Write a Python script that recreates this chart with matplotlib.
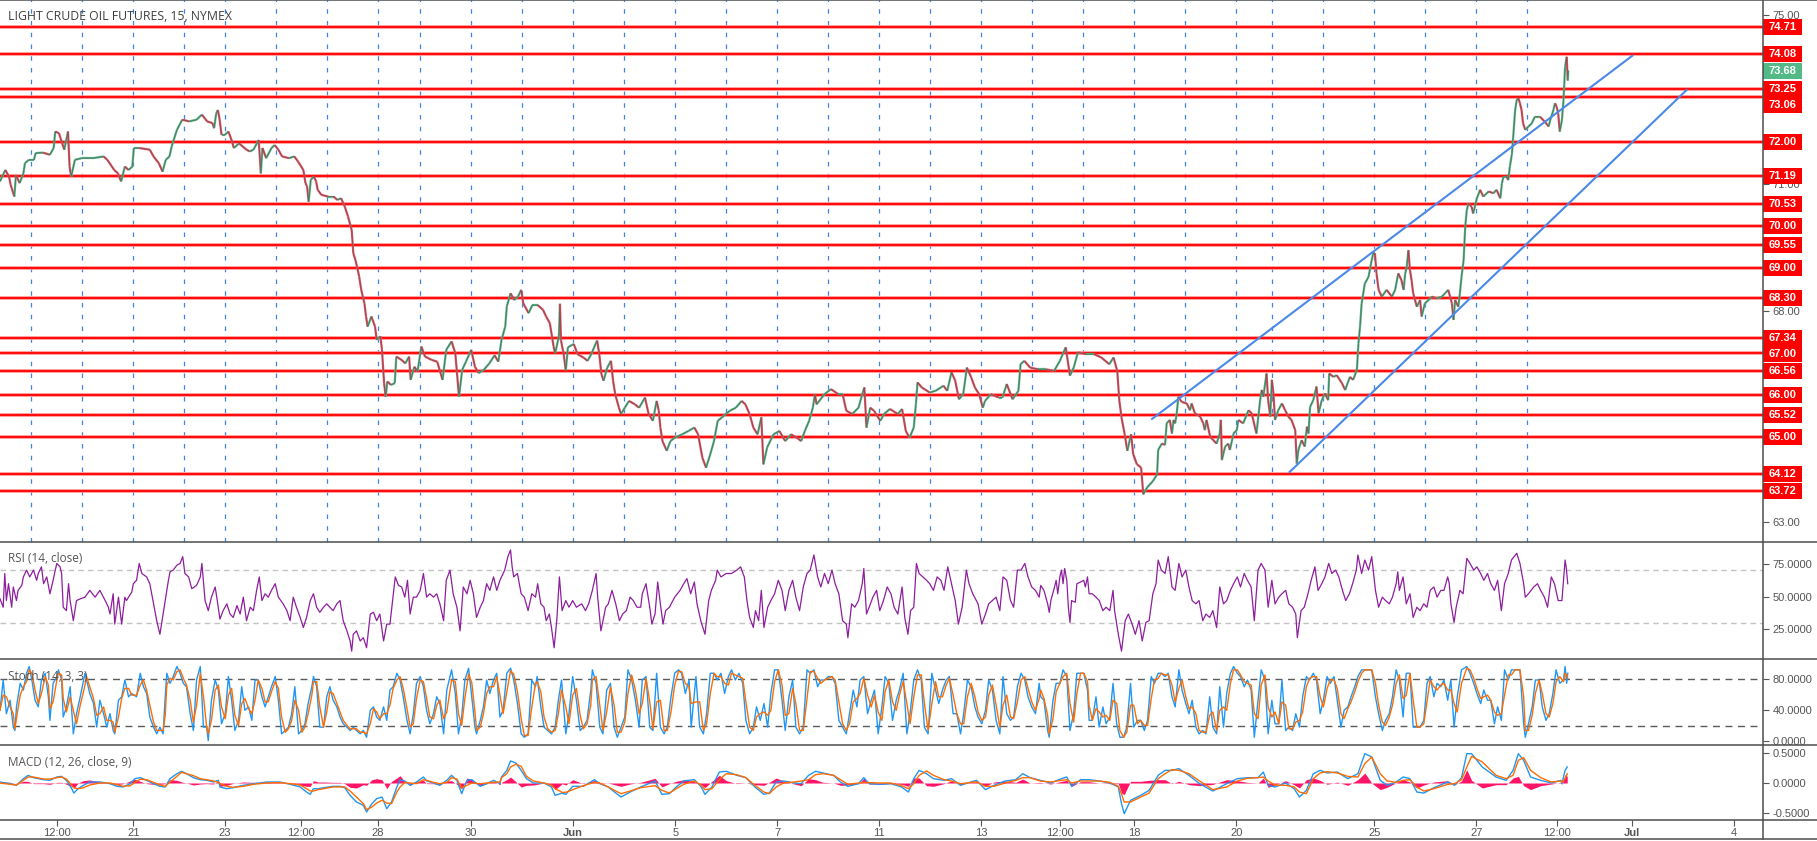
import numpy as np
import pandas as pd
import matplotlib
matplotlib.use("Agg")
import matplotlib.pyplot as plt
import matplotlib.transforms as mtransforms
from matplotlib.collections import LineCollection
from matplotlib.lines import Line2D
from matplotlib.patches import Rectangle

plt.rcParams["font.family"] = ["Liberation Sans", "DejaVu Sans"]

# ---- data (x in 15-min bars from the first day boundary) ----
price_bar = [
    -59, -49, -42, -39, -32, -29, -22, -15, -12, -5, 5, 8, 22, 35, 42, 45, 52, 55, 62, 69, 72, 75, 82, 95, 116,
    136, 143, 156, 163, 169, 176, 183, 190, 193, 203, 223, 230, 240, 247, 253, 260, 264, 274, 284, 297, 311, 321,
    331, 341, 344, 348, 351, 354, 358, 364, 371, 378, 381, 391, 405, 411, 418, 428, 432, 435, 442, 452, 458, 465,
    472, 485, 495, 502, 512, 516, 519, 522, 526, 532, 536, 539, 546, 559, 569, 576, 583, 590, 596, 603, 606, 610,
    613, 617, 621, 627, 630, 633, 640, 647, 650, 657, 660, 664, 667, 670, 677, 684, 687, 697, 704, 711, 714, 721,
    727, 734, 741, 754, 764, 774, 781, 791, 798, 805, 811, 818, 828, 835, 842, 852, 862, 872, 879, 885, 892, 895,
    902, 909, 916, 922, 926, 936, 943, 953, 963, 969, 976, 983, 986, 993, 995, 997,
    1002, 1006, 1010, 1021, 1028, 1039, 1047, 1054, 1062, 1065, 1069, 1073, 1077, 1084, 1091, 1095, 1099, 1106,
    1110, 1117, 1125, 1136, 1144, 1155, 1162, 1170, 1177, 1181, 1184, 1188, 1196, 1203, 1211, 1225, 1237, 1248,
    1255, 1263, 1270, 1278, 1285, 1292, 1300, 1307, 1315, 1326, 1337, 1344, 1352, 1359, 1367, 1374, 1378, 1385,
    1397, 1408, 1419, 1430, 1441, 1449, 1456, 1464, 1471, 1475, 1478, 1493, 1505, 1519, 1527, 1534, 1545, 1557,
    1564, 1568, 1572, 1579, 1586, 1598, 1605, 1616, 1631, 1639, 1646, 1653, 1661, 1665, 1668, 1676, 1691, 1702,
    1717, 1724, 1732, 1739, 1746, 1754, 1761, 1769, 1776, 1784, 1791, 1795, 1806, 1821, 1828, 1836, 1847, 1858,
    1862, 1869, 1880, 1895, 1910, 1925, 1936, 1947, 1955, 1962, 1970, 1985, 2000, 2014, 2029, 2037, 2044, 2048,
    2052, 2058, 2063, 2070, 2074, 2081, 2089, 2093, 2100, 2111, 2119,
    2121, 2128, 2134, 2137, 2143, 2147, 2150, 2153, 2156, 2159, 2165, 2175, 2181, 2184, 2190, 2200, 2206, 2209,
    2212, 2219, 2225, 2231, 2237, 2239, 2241, 2247, 2253, 2256, 2263, 2269, 2272, 2281, 2291, 2297, 2303, 2306,
    2313, 2316, 2319, 2325, 2328, 2332, 2335, 2338, 2341, 2347, 2354, 2360, 2366, 2372, 2379, 2382, 2385, 2391,
    2397, 2401, 2404, 2407, 2413, 2419, 2423, 2429, 2435, 2441, 2443, 2451, 2457, 2467, 2473, 2482, 2488, 2495,
    2498, 2501, 2504, 2510, 2517, 2523, 2526, 2529, 2532, 2536, 2542, 2551, 2561, 2567, 2573, 2579, 2583, 2586,
    2589, 2592, 2595, 2598, 2601, 2608, 2614, 2617, 2623, 2630, 2636, 2645, 2655, 2661, 2667, 2674, 2677, 2680,
    2686, 2689, 2692, 2696, 2699, 2702, 2705, 2711, 2714, 2721, 2727, 2733, 2743, 2752, 2758, 2765, 2768, 2771,
    2777, 2780, 2783, 2787,
    2793, 2796, 2799, 2802, 2805, 2808, 2812, 2818, 2824, 2830, 2840, 2849, 2856, 2859, 2865, 2868, 2871, 2874,
    2877, 2881, 2884, 2887, 2890, 2892, 2893,
]
price_close = [
    71.06, 71.33, 71.17, 70.98, 70.70, 71.21, 71.02, 71.25, 71.49, 71.57, 71.57, 71.73, 71.74, 71.69, 71.85, 72.24,
    72.20, 72.08, 71.81, 72.24, 71.41, 71.17, 71.57, 71.61, 71.61, 71.65, 71.57, 71.33, 71.25, 71.06, 71.41, 71.33,
    71.41, 71.85, 71.85, 71.81, 71.65, 71.49, 71.29, 71.57, 71.65, 71.88, 72.28, 72.52, 72.48, 72.52, 72.64, 72.48,
    72.44, 72.32, 72.67, 72.75, 72.56, 72.16, 72.16, 72.24, 72.00, 71.85, 71.96, 71.81, 71.77, 71.81, 72.04, 71.25,
    71.85, 71.61, 71.85, 71.92, 71.81, 71.65, 71.61, 71.65, 71.53, 71.33, 71.02, 70.94, 70.58, 71.10, 71.17, 71.06,
    70.86, 70.74, 70.70, 70.70, 70.62, 70.66, 70.46, 70.23, 69.91, 69.36, 69.20, 69.04, 68.81, 68.49, 68.17, 67.86,
    67.62, 67.86, 67.62, 67.31, 67.39, 67.07, 66.28, 65.96, 66.32, 66.24, 66.28, 66.91, 66.83, 66.75, 66.91, 66.36,
    66.67, 66.56, 67.15, 66.91, 66.83, 66.79, 66.36, 67.07, 67.27, 66.99, 65.96, 66.60, 66.79, 67.07, 66.67, 66.52,
    66.60, 66.75, 66.94, 66.79, 67.31, 67.62, 68.10, 68.41, 68.25, 68.33, 68.49, 68.17, 67.94, 68.13, 68.13, 68.02,
    67.86, 67.70, 67.15, 66.99, 67.39, 68.16, 67.29,
    66.97, 66.58, 67.13, 67.21, 66.97, 66.89, 66.81, 66.97, 67.21, 67.29, 66.97, 66.50, 66.34, 66.65, 66.81, 66.34,
    66.02, 65.70, 65.55, 65.70, 65.86, 65.78, 65.70, 65.94, 65.55, 65.39, 65.86, 65.63, 65.23, 64.91, 64.68, 64.91,
    64.99, 65.07, 65.15, 65.23, 65.07, 64.52, 64.28, 64.60, 64.91, 65.39, 65.47, 65.55, 65.63, 65.70, 65.86, 65.78,
    65.55, 65.23, 65.07, 65.47, 64.36, 64.76, 65.07, 65.15, 64.91, 65.07, 64.99, 64.91, 65.15, 65.39, 65.70, 66.02,
    65.78, 66.02, 66.14, 66.02, 66.02, 65.63, 65.55, 65.70, 66.02, 66.18, 65.23, 65.70, 65.63, 65.39, 65.55, 65.67,
    65.55, 65.67, 65.15, 64.99, 65.23, 65.78, 66.30, 66.18, 66.06, 66.10, 66.22, 66.10, 66.54, 66.34, 65.90, 66.02,
    66.65, 66.42, 66.18, 66.02, 65.70, 65.86, 66.02, 65.94, 65.94, 66.26, 65.90, 66.10, 66.73, 66.81, 66.65, 66.61,
    66.61, 66.57, 66.81, 67.13, 66.46, 66.65, 67.01, 66.97, 66.97, 66.89, 66.73, 66.89, 66.57, 65.86, 65.47, 65.07,
    64.68, 65.07, 64.60, 64.36, 64.28, 63.65, 63.81, 63.96, 64.12,
    64.70, 64.85, 64.82, 65.33, 65.41, 65.09, 65.41, 65.33, 65.57, 65.96, 65.84, 65.80, 65.64, 65.80, 65.57, 65.49,
    65.33, 65.17, 65.41, 65.01, 64.93, 64.85, 65.09, 65.41, 64.46, 64.78, 64.85, 64.70, 65.09, 65.17, 65.41, 65.33,
    65.64, 65.57, 65.25, 65.09, 65.88, 66.12, 65.96, 66.51, 65.88, 65.49, 66.36, 66.04, 65.41, 65.64, 65.80, 65.64,
    65.49, 65.41, 65.17, 64.38, 64.70, 64.93, 64.78, 65.25, 65.09, 65.72, 65.88, 66.20, 65.57, 65.88, 66.04, 65.88,
    66.51, 66.43, 66.47, 66.28, 66.12, 66.43, 66.36, 66.59, 67.22, 67.62, 68.17, 68.64, 68.80, 69.20, 69.36, 69.36,
    68.88, 68.49, 68.33, 68.49, 68.33, 68.49, 68.88, 68.72, 68.49, 68.88, 69.04, 69.43, 68.96, 68.72, 68.41, 68.09,
    68.25, 67.86, 68.17, 68.25, 68.33, 68.29, 68.33, 68.41, 68.49, 68.17, 67.78, 68.25, 68.09, 68.41, 68.80, 69.20,
    69.99, 70.38, 70.54, 70.46, 70.30, 70.66, 70.86, 70.70, 70.82, 70.78, 70.86, 70.66, 71.01, 71.17, 71.17, 71.09,
    71.41, 71.72,
    72.75, 72.99, 73.03, 72.91, 72.75, 72.43, 72.28, 72.36, 72.43, 72.59, 72.59, 72.47, 72.36, 72.51, 72.75, 72.91,
    72.83, 72.67, 72.24, 72.51, 72.99, 73.78, 74.01, 73.45, 73.68,
]
last_price = 73.68

levels = [74.71, 74.08, 73.25, 73.06, 72.00, 71.19, 70.53, 70.00, 69.55, 69.00, 68.30,
          67.34, 67.00, 66.56, 66.00, 65.52, 65.00, 64.12, 63.72]

# price-axis labels that stay readable next to the level tags
axis_ticks = [63, 64, 65, 66, 67, 68, 69, 70, 71, 72, 73, 74, 75]
axis_labelled = [63, 68, 71, 75]

# hand-drawn channel (bar, price)
upper_line = ([2108, 3015], [65.42, 74.05])
lower_line = ([2367, 3117], [64.16, 73.24])

day_grid = [0, 96, 192, 288, 364, 460, 556, 652, 732, 828, 924, 1020, 1116, 1212, 1308, 1404, 1500,
            1596, 1692, 1788, 1884, 1980, 2076, 2172, 2268, 2336, 2432, 2528, 2624, 2720, 2816]
date_pos = [48, 192, 364, 508, 652, 828, 1020, 1212, 1404, 1596, 1788, 1936, 2076, 2268, 2528, 2720,
            2871, 3012, 3204]
date_lbl = ["12:00", "21", "23", "12:00", "28", "30", "Jun", "5", "7", "11", "13", "12:00", "18", "20",
            "25", "27", "12:00", "Jul", "4"]

rsi_bar = [
    -59, -53, -50, -47, -43, -37, -34, -28, -25, -18, -15, -12, -9, -3, 4, 10, 13, 19, 23, 29, 35, 41, 45, 48,
    54, 57, 60, 66, 70, 73, 79, 85, 92, 101, 110, 120, 129, 139, 145, 148, 154, 157, 164, 170, 176, 179, 189,
    192, 198, 203, 208, 217, 223, 230, 236, 242, 248, 252, 258, 261, 267, 274, 280, 285, 289, 296, 302, 311, 318,
    321, 327, 333, 339, 346, 349, 355, 361, 368, 374, 380, 387, 393, 399, 405, 412, 418, 424, 429, 434, 440, 446,
    452, 459, 465, 474, 481, 487, 493, 499, 506, 512, 518, 525, 531, 537, 543, 550, 556, 562, 568, 575, 581, 587,
    594, 600, 603, 606, 612, 619, 625, 631, 638, 644, 650, 656, 663, 669, 675, 685, 691, 697, 703, 708, 713, 719,
    725, 732, 738, 744, 750, 757, 763, 769, 776, 781, 788, 794, 801, 807, 813, 820, 826, 832, 838, 845, 851, 857,
    863, 870, 876, 882,
    885, 891, 897, 902, 905, 908, 915, 922, 928, 935, 942, 949, 953, 959, 965, 969, 975, 979, 984, 989, 994, 999,
    1006, 1012, 1019, 1026, 1036, 1043, 1049, 1056, 1063, 1066, 1072, 1076, 1081, 1086, 1093, 1100, 1107, 1113,
    1120, 1127, 1133, 1140, 1147, 1150, 1157, 1164, 1168, 1174, 1179, 1184, 1189, 1194, 1201, 1211, 1221, 1228,
    1234, 1241, 1248, 1253, 1260, 1268, 1275, 1280, 1288, 1291, 1298, 1308, 1318, 1328, 1335, 1342, 1347, 1352,
    1359, 1363, 1369, 1374, 1379, 1386, 1392, 1399, 1406, 1413, 1419, 1426, 1433, 1439, 1446, 1453, 1460, 1466,
    1473, 1480, 1486, 1493, 1500, 1507, 1513, 1520, 1527, 1534, 1537, 1544, 1550, 1557, 1564, 1567, 1572, 1577,
    1584, 1591, 1597, 1604, 1611, 1618, 1624, 1631, 1639, 1644, 1650, 1655, 1661, 1666, 1671, 1678, 1685, 1691,
    1698, 1705, 1712, 1718, 1725, 1732, 1739, 1745, 1752, 1760, 1765, 1772, 1782, 1789, 1796, 1802, 1809, 1816,
    1823, 1829, 1836, 1843, 1849, 1856, 1863, 1870, 1876, 1883, 1890, 1897,
    1900, 1906, 1913, 1916, 1919, 1926, 1929, 1932, 1936, 1939, 1942, 1945, 1949, 1952, 1955, 1958, 1965, 1968,
    1975, 1981, 1984, 1988, 1991, 1997, 2004, 2010, 2017, 2023, 2030, 2036, 2039, 2046, 2052, 2059, 2065, 2072,
    2078, 2085, 2091, 2098, 2104, 2111, 2117, 2121, 2127, 2134, 2140, 2147, 2153, 2160, 2166, 2173, 2179, 2185,
    2192, 2198, 2205, 2211, 2218, 2224, 2231, 2237, 2244, 2250, 2257, 2263, 2270, 2276, 2283, 2289, 2296, 2302,
    2309, 2315, 2322, 2328, 2335, 2341, 2348, 2354, 2361, 2367, 2374, 2380, 2383, 2390, 2396, 2403, 2409, 2416,
    2422, 2429, 2435, 2442, 2448, 2455, 2461, 2468, 2474, 2481, 2487, 2494, 2497, 2504, 2510, 2517, 2523, 2530,
    2536, 2543, 2549, 2556, 2562, 2569, 2572, 2575, 2582, 2588, 2595, 2601, 2608, 2614, 2621, 2627, 2633, 2640,
    2646, 2653, 2659, 2666, 2669, 2672, 2678, 2682, 2689, 2695, 2702, 2708, 2715, 2721, 2728, 2734, 2741, 2747,
    2754, 2760, 2767, 2773, 2780, 2786, 2796, 2802, 2809, 2812, 2818, 2828, 2835, 2841, 2848, 2854, 2861, 2867,
    2874, 2881, 2884, 2887, 2889, 2892,
]
rsi_val = [
    48.3, 41.9, 67.7, 47.0, 59.9, 41.9, 57.4, 47.0, 54.8, 58.6, 65.1, 67.7, 70.3, 65.1, 70.3, 62.5, 67.7, 72.8,
    59.9, 65.1, 52.2, 62.5, 70.3, 75.4, 72.8, 67.7, 41.9, 39.3, 59.9, 47.0, 31.6, 47.0, 48.3, 49.6, 54.8, 49.6,
    54.8, 47.0, 41.9, 36.7, 52.2, 29.0, 49.6, 29.0, 49.6, 47.0, 53.5, 59.9, 62.5, 75.4, 67.7, 65.1, 59.9, 44.5,
    31.6, 21.2, 36.7, 47.0, 62.5, 69.0, 70.3, 74.1, 75.4, 80.6, 67.7, 65.1, 56.1, 58.6, 65.1, 75.4, 47.0, 39.3,
    49.6, 57.4, 49.6, 32.8, 39.3, 44.5, 36.7, 34.1, 43.2, 36.7, 49.6, 31.6, 41.9, 39.3, 54.8, 65.1, 47.0, 52.2,
    49.6, 54.8, 59.9, 49.6, 44.5, 39.3, 31.6, 49.6, 41.9, 34.1, 26.4, 34.1, 47.0, 52.2, 41.9, 38.0, 41.9, 44.5,
    41.9, 39.3, 44.5, 47.0, 31.6, 23.8, 16.1, 8.3, 21.2, 23.8, 16.1, 18.6, 10.9, 36.7, 38.0, 31.6, 36.7, 16.1,
    29.0, 29.0, 65.1, 58.6, 57.4, 49.6, 62.5, 36.7, 49.6, 49.6, 54.8, 67.7, 49.6, 52.2, 49.6, 52.2, 44.5, 31.6,
    62.5, 70.3, 52.2, 41.9, 23.8, 57.4, 52.2, 62.5, 52.2, 34.1, 41.9, 47.0, 59.9, 54.8, 65.1, 54.8, 62.5,
    65.1, 70.3, 80.6, 85.7, 72.8, 65.1, 67.7, 52.2, 49.6, 39.3, 52.2, 49.6, 59.9, 44.5, 41.9, 31.6, 36.7, 26.4,
    10.9, 31.6, 65.1, 39.3, 47.0, 41.9, 47.0, 41.9, 44.5, 39.3, 44.5, 54.8, 67.7, 49.6, 23.8, 31.6, 41.9, 44.5,
    54.8, 44.5, 31.6, 36.7, 39.3, 49.6, 47.0, 41.9, 41.9, 52.2, 59.9, 41.9, 29.0, 36.7, 61.2, 44.5, 29.0, 39.3,
    41.9, 49.6, 54.8, 59.9, 63.8, 52.2, 61.2, 44.5, 31.6, 21.2, 47.0, 54.8, 62.5, 70.3, 65.1, 67.7, 67.7, 70.3,
    72.8, 65.1, 47.0, 34.1, 26.4, 39.3, 31.6, 54.8, 26.4, 41.9, 47.0, 52.2, 62.5, 54.8, 39.3, 54.8, 62.5, 49.6,
    39.3, 57.4, 67.7, 70.3, 81.9, 65.1, 57.4, 67.7, 59.9, 70.3, 59.9, 52.2, 31.6, 29.0, 18.6, 44.5, 41.9, 47.0,
    59.9, 71.5, 36.7, 41.9, 49.6, 54.8, 39.3, 47.0, 57.4, 52.2, 41.9, 36.7, 57.4, 34.1, 21.2, 39.3, 41.9, 75.4,
    67.7, 65.1, 62.5, 59.9, 54.8, 65.1, 62.5, 54.8, 72.8, 59.9, 47.0, 29.0, 41.9, 70.3, 59.9, 52.2, 44.5, 29.0,
    36.7, 44.5, 47.0, 49.6, 39.3, 65.1, 62.5, 47.0, 41.9, 70.3, 70.3, 75.4, 65.1, 57.4, 54.8, 49.6,
    58.6, 54.8, 44.5, 38.0, 47.0, 57.4, 62.5, 52.2, 65.1, 70.3, 59.9, 71.5, 62.5, 41.9, 30.3, 47.0, 45.7, 59.9,
    61.2, 62.5, 57.4, 65.1, 52.2, 52.2, 49.6, 47.0, 39.3, 41.9, 39.3, 54.8, 39.3, 21.2, 8.3, 31.6, 36.7, 29.0,
    21.2, 31.6, 16.1, 30.3, 31.6, 52.2, 59.9, 78.0, 70.3, 67.7, 80.6, 57.4, 54.8, 75.4, 65.1, 70.3, 57.4, 47.0,
    44.5, 47.0, 31.6, 36.7, 34.1, 39.3, 26.4, 57.4, 44.5, 47.0, 54.8, 59.9, 65.1, 57.4, 67.7, 62.5, 57.4, 31.6,
    70.3, 75.4, 70.3, 41.9, 62.5, 44.5, 49.6, 52.2, 54.8, 44.5, 41.9, 36.7, 18.6, 39.3, 41.9, 52.2, 62.5, 72.8,
    54.8, 59.9, 65.1, 75.4, 67.7, 70.3, 65.1, 54.8, 47.0, 52.2, 59.9, 70.3, 81.9, 67.7, 78.0, 70.3, 80.6, 54.8,
    41.9, 49.6, 47.0, 44.5, 49.6, 59.9, 69.0, 54.8, 65.1, 44.5, 52.2, 34.1, 41.9, 39.3, 44.5, 41.9, 54.8, 57.4,
    49.6, 54.8, 54.8, 65.1, 59.9, 44.5, 30.3, 41.9, 54.8, 52.2, 79.3, 75.4, 70.3, 72.8, 67.7, 62.5, 67.7, 59.9,
    54.8, 62.5, 39.3, 59.9, 67.7, 78.0, 83.2, 75.4, 59.9, 49.6, 52.2, 57.4, 59.9, 54.8, 49.6, 41.9, 65.1, 59.9,
    47.0, 47.0, 62.5, 78.0, 72.8, 59.9,
]

stoch_bar = [
    -59, -53, -47, -40, -34, -31, -28, -21, -15, -9, -4, 1, 7, 13, 19, 26, 32, 35, 41, 48, 51, 57, 60, 66, 73,
    79, 85, 92, 101, 104, 110, 117, 123, 129, 136, 142, 148, 154, 157, 164, 170, 176, 183, 189, 198, 205, 211,
    217, 223, 230, 236, 242, 248, 252, 255, 261, 267, 274, 280, 286, 292, 299, 305, 311, 318, 324, 330, 333, 339,
    346, 352, 358, 365, 371, 377, 383, 390, 396, 402, 409, 415, 421, 427, 434, 440, 446, 452, 459, 465, 471, 478,
    484, 490, 496, 503, 509, 515, 521, 528, 531, 537, 543, 550, 556, 562, 568, 575, 581, 587, 594, 600, 606, 612,
    619, 625, 631, 638, 644, 650, 656, 663, 669, 675, 681, 688, 694, 700, 707, 713, 719, 725, 732, 738, 744, 750,
    757, 763, 769, 776, 782, 791, 798, 804, 810, 816, 823, 829, 835, 838, 845, 851, 857, 863, 870, 876, 882,
    888, 895, 902, 908, 915, 922, 928, 935, 942, 949, 952, 959, 965, 972, 979, 986, 992, 998, 1006, 1012, 1019,
    1026, 1033, 1039, 1046, 1053, 1056, 1063, 1070, 1076, 1083, 1090, 1097, 1103, 1110, 1117, 1123, 1130, 1137,
    1144, 1150, 1157, 1164, 1170, 1177, 1184, 1191, 1197, 1204, 1211, 1218, 1224, 1231, 1238, 1242, 1251, 1258,
    1265, 1271, 1278, 1285, 1291, 1298, 1305, 1312, 1318, 1325, 1332, 1339, 1345, 1352, 1359, 1365, 1372, 1379,
    1386, 1392, 1399, 1406, 1413, 1419, 1426, 1433, 1439, 1446, 1453, 1460, 1466, 1473, 1480, 1486, 1493, 1500,
    1507, 1513, 1520, 1527, 1534, 1540, 1547, 1554, 1560, 1567, 1574, 1581, 1587, 1594, 1601, 1607, 1614, 1621,
    1628, 1634, 1641, 1648, 1654, 1661, 1668, 1675, 1681, 1688, 1695, 1702, 1708, 1715, 1722, 1728, 1735, 1742,
    1749, 1755, 1762, 1769, 1776, 1782, 1789, 1796, 1802, 1809, 1816, 1823, 1829, 1836, 1843, 1849, 1856, 1863,
    1870, 1876, 1883, 1890, 1897,
    1900, 1906, 1913, 1916, 1923, 1929, 1936, 1942, 1949, 1955, 1962, 1968, 1975, 1981, 1988, 1991, 1997, 2004,
    2010, 2017, 2023, 2030, 2036, 2043, 2049, 2056, 2062, 2069, 2075, 2082, 2088, 2095, 2101, 2108, 2114, 2121,
    2127, 2134, 2140, 2147, 2153, 2160, 2166, 2173, 2179, 2185, 2192, 2198, 2205, 2211, 2218, 2224, 2231, 2237,
    2244, 2250, 2257, 2263, 2270, 2276, 2283, 2289, 2296, 2302, 2309, 2315, 2322, 2328, 2335, 2341, 2348, 2354,
    2361, 2367, 2374, 2380, 2387, 2393, 2400, 2406, 2413, 2419, 2426, 2432, 2439, 2445, 2452, 2458, 2465, 2471,
    2478, 2484, 2491, 2497, 2504, 2510, 2517, 2523, 2530, 2536, 2543, 2549, 2556, 2562, 2569, 2575, 2582, 2588,
    2595, 2601, 2608, 2614, 2621, 2627, 2633, 2640, 2646, 2653, 2659, 2666, 2672, 2678, 2684, 2692, 2702, 2708,
    2715, 2721, 2728, 2734, 2741, 2747, 2754, 2760, 2767, 2773, 2780, 2786, 2793, 2802, 2809, 2812, 2818, 2825,
    2831, 2838, 2844, 2851, 2857, 2864, 2870, 2877, 2884, 2887, 2890, 2892,
]
stoch_k = [
    40.0, 79.1, 35.6, 53.0, 18.3, 13.9, 44.4, 74.8, 66.1, 87.8, 96.5, 79.1, 53.0, 44.4, 79.1, 87.8, 57.4, 27.0,
    74.8, 83.5, 92.2, 79.1, 31.3, 44.4, 70.4, 9.6, 35.6, 57.4, 87.8, 79.1, 61.7, 48.7, 18.3, 53.0, 35.6, 18.3,
    35.6, 13.9, 9.6, 53.0, 57.4, 79.1, 57.4, 61.7, 57.4, 87.8, 70.4, 61.7, 31.3, 18.3, 9.6, 18.3, 9.6, 57.4, 87.8,
    74.8, 83.5, 96.5, 87.8, 74.8, 70.4, 35.6, 13.9, 79.1, 96.5, 18.3, 18.3, 0.9, 53.0, 79.1, 66.1, 22.6, 35.6,
    83.5, 53.0, 13.9, 27.0, 70.4, 40.0, 44.4, 27.0, 79.1, 79.1, 57.4, 44.4, 57.4, 70.4, 83.5, 53.0, 9.6, 13.9,
    18.3, 35.6, 70.4, 9.6, 13.9, 22.6, 48.7, 70.4, 83.5, 70.4, 18.3, 18.3, 57.4, 70.4, 53.0, 44.4, 31.3, 22.6,
    18.3, 13.9, 18.3, 13.9, 9.6, 13.9, 5.2, 40.0, 44.4, 31.3, 27.0, 44.4, 27.0, 66.1, 70.4, 87.8, 79.1, 57.4,
    27.0, 9.6, 35.6, 74.8, 83.5, 70.4, 40.0, 22.6, 35.6, 57.4, 48.7, 9.6, 66.1, 92.2, 61.7, 9.6, 31.3, 79.1,
    94.3, 57.4, 18.3, 9.6, 27.0, 44.4, 79.1, 61.7, 79.1, 87.8, 31.3,
    40.0, 87.8, 94.3, 79.1, 48.7, 9.6, 5.2, 9.6, 79.1, 70.4, 83.5, 44.4, 18.3, 13.9, 9.6, 18.3, 53.0, 79.1, 9.6,
    35.6, 83.5, 53.0, 13.9, 18.3, 27.0, 66.1, 92.2, 74.8, 18.3, 9.6, 66.1, 74.8, 18.3, 5.2, 18.3, 31.3, 92.2,
    79.1, 53.0, 18.3, 79.1, 83.5, 18.3, 13.9, 87.8, 18.3, 9.6, 18.3, 57.4, 87.8, 92.2, 87.8, 61.7, 79.1, 18.3,
    83.5, 18.3, 9.6, 35.6, 87.8, 87.8, 79.1, 87.8, 61.7, 83.5, 92.2, 79.1, 87.8, 74.8, 27.0, 9.6, 18.3, 44.4,
    27.0, 48.7, 18.3, 61.7, 92.2, 92.2, 53.0, 13.9, 57.4, 79.1, 18.3, 9.6, 18.3, 92.2, 87.8, 92.2, 70.4, 79.1,
    79.1, 83.5, 83.5, 74.8, 27.0, 18.3, 9.6, 35.6, 66.1, 44.4, 79.1, 83.5, 35.6, 53.0, 66.1, 9.6, 44.4, 83.5,
    74.8, 27.0, 53.0, 66.1, 87.8, 9.6, 35.6, 79.1, 92.2, 79.1, 18.3, 9.6, 87.8, 66.1, 48.7, 66.1, 79.1, 83.5,
    35.6, 35.6, 9.6, 35.6, 79.1, 70.4, 44.4, 31.3, 22.6, 40.0, 79.1, 66.1, 27.0, 9.6, 83.5, 35.6, 27.0, 31.3,
    70.4, 87.8, 79.1, 57.4, 44.4, 35.6, 74.8,
    57.4, 53.0, 13.9, 5.2, 53.0, 74.8, 74.8, 92.2, 83.5, 13.9, 35.6, 87.8, 87.8, 87.8, 66.1, 27.0, 27.0, 57.4,
    18.3, 44.4, 22.6, 31.3, 74.8, 22.6, 5.2, 5.2, 18.3, 74.8, 18.3, 27.0, 27.0, 13.9, 27.0, 83.5, 74.8, 87.8,
    87.8, 83.5, 87.8, 57.4, 44.4, 92.2, 66.1, 48.7, 35.6, 53.0, 18.3, 9.6, 13.9, 9.6, 57.4, 18.3, 9.6, 70.4,
    18.3, 61.7, 87.8, 96.5, 87.8, 83.5, 70.4, 79.1, 66.1, 5.2, 53.0, 92.2, 79.1, 9.6, 53.0, 22.6, 22.6, 79.1,
    13.9, 18.3, 13.9, 35.6, 18.3, 57.4, 83.5, 79.1, 87.8, 79.1, 35.6, 53.0, 83.5, 74.8, 83.5, 53.0, 18.3, 40.0,
    44.4, 57.4, 70.4, 83.5, 92.2, 92.2, 92.2, 92.2, 57.4, 35.6, 13.9, 27.0, 35.6, 57.4, 92.2, 79.1, 31.3, 87.8,
    87.8, 18.3, 18.3, 18.3, 27.0, 74.8, 83.5, 57.4, 74.8, 70.4, 79.1, 53.0, 79.1, 18.3, 57.4, 92.2, 96.5, 87.8,
    74.8, 61.7, 48.7, 66.1, 53.0, 53.0, 22.6, 44.4, 27.0, 92.2, 79.1, 92.2, 92.2, 92.2, 22.6, 5.2, 22.6, 44.4,
    79.1, 79.1, 44.4, 27.0, 35.6, 61.7, 92.2, 74.8, 79.1, 96.5, 74.8, 87.8,
]

macd_bar = [
    -59, -40, -28, -15, -6, 4, 23, 35, 48, 57, 66, 76, 80, 88, 98, 110, 129, 148, 161, 173, 186, 195, 205, 217,
    230, 242, 252, 261, 274, 283, 292, 305, 318, 330, 343, 352, 355, 368, 380, 399, 418, 430, 443, 456, 468, 487,
    506, 518, 525, 531, 540, 550, 568, 581, 590, 600, 612, 625, 631, 641, 650, 660, 669, 678, 688, 694, 703, 713,
    725, 738, 744, 757, 769, 782, 791, 801, 810, 820, 829, 845, 857, 870, 882,
    885, 895, 902, 912, 922, 932, 945, 965, 979, 986, 999, 1006, 1019, 1039, 1060, 1070, 1086, 1100, 1110, 1127,
    1147, 1174, 1187, 1201, 1214, 1228, 1248, 1261, 1268, 1281, 1295, 1308, 1328, 1345, 1362, 1379, 1389, 1402,
    1416, 1436, 1449, 1463, 1476, 1490, 1510, 1523, 1537, 1557, 1567, 1577, 1597, 1618, 1638, 1651, 1661, 1671,
    1685, 1698, 1718, 1732, 1749, 1762, 1779, 1796, 1812, 1833, 1853, 1866, 1880, 1899,
    1919, 1939, 1949, 1958, 1975, 1991, 2010, 2030, 2046, 2052, 2057, 2069, 2088, 2104, 2121, 2134, 2147, 2160,
    2179, 2199, 2224, 2250, 2270, 2289, 2309, 2319, 2328, 2341, 2361, 2377, 2387, 2400, 2413, 2426, 2439, 2458,
    2478, 2497, 2510, 2523, 2539, 2552, 2569, 2582, 2595, 2608, 2621, 2640, 2666, 2679, 2692, 2702, 2711, 2731,
    2757, 2776, 2789, 2799, 2809, 2822, 2841, 2861, 2879, 2881, 2887, 2891,
]
macd_line = [
    0.017, -0.011, -0.039, 0.073, 0.129, 0.090, 0.056, 0.045, 0.101, 0.112, 0.045, -0.096, -0.169, -0.096,
    -0.039, 0.017, 0.017, -0.011, -0.056, -0.067, -0.011, 0.073, 0.090, 0.045, -0.011, -0.056, -0.067, 0.073,
    0.157, 0.197, 0.157, 0.090, 0.056, 0.045, 0.017, 0.045, -0.067, -0.096, -0.079, -0.039, -0.011, 0.000,
    0.017, 0.017, 0.017, -0.022, -0.067, -0.152, -0.191, -0.096, -0.096, -0.079, -0.056, -0.056, -0.079, -0.208,
    -0.320, -0.376, -0.489, -0.348, -0.264, -0.236, -0.433, -0.320, -0.067, 0.056, 0.034, -0.039, 0.017, 0.101,
    0.034, 0.000, -0.039, 0.045, 0.129, 0.045, -0.180, 0.045, 0.056, -0.056, -0.011, 0.045, -0.011,
    0.101, 0.213, 0.371, 0.337, 0.213, 0.073, 0.000, 0.000, -0.067, -0.208, -0.169, -0.191, -0.056, -0.056,
    0.056, -0.011, -0.067, -0.169, -0.236, -0.152, -0.067, 0.034, -0.191, -0.180, -0.067, 0.034, 0.056, -0.067,
    -0.191, -0.067, 0.185, 0.197, 0.129, 0.090, -0.067, -0.191, -0.169, 0.017, 0.034, 0.000, -0.011, 0.129,
    0.197, 0.169, 0.129, 0.017, -0.056, -0.011, 0.090, -0.011, -0.022, -0.011, -0.067, -0.152, 0.073, 0.213,
    0.157, 0.073, 0.045, 0.073, -0.039, 0.000, 0.045, -0.112, -0.039, 0.034, 0.056, 0.157, 0.090, 0.045,
    0.000, 0.073, 0.101, -0.056, 0.056, 0.056, 0.034, 0.000, -0.067, -0.348, -0.517, -0.292, -0.208, -0.124,
    0.129, 0.213, 0.213, 0.242, 0.129, -0.011, -0.135, -0.011, 0.073, 0.090, 0.090, 0.185, -0.039, -0.067,
    0.000, -0.096, -0.236, -0.124, 0.157, 0.213, 0.169, 0.185, 0.073, 0.157, 0.494, 0.438, 0.045, -0.039, 0.017,
    0.101, 0.073, -0.152, -0.169, -0.079, 0.017, -0.039, 0.090, 0.494, 0.494, 0.270, 0.101, 0.045, 0.213, 0.494,
    0.382, 0.101, 0.045, 0.000, 0.045, -0.011, 0.213, 0.270,
]
macd_signal = [
    0.000, -0.022, -0.034, 0.045, 0.101, 0.101, 0.067, 0.067, 0.090, 0.101, 0.067, -0.039, -0.079, -0.096,
    -0.079, -0.034, 0.000, 0.000, -0.028, -0.056, -0.045, 0.011, 0.062, 0.056, 0.011, -0.034, -0.056, 0.017,
    0.112, 0.180, 0.157, 0.124, 0.073, 0.056, 0.034, 0.011, -0.011, -0.056, -0.073, -0.056, -0.022, -0.011,
    0.000, 0.006, 0.006, -0.011, -0.034, -0.096, -0.135, -0.135, -0.112, -0.096, -0.067, -0.067, -0.067, -0.135,
    -0.236, -0.348, -0.449, -0.404, -0.337, -0.292, -0.337, -0.348, -0.152, -0.067, 0.011, 0.000, -0.011, 0.056,
    0.045, 0.011, -0.011, 0.011, 0.090, 0.067, -0.079, -0.039, 0.000, -0.011, 0.000, 0.011, 0.017,
    0.090, 0.157, 0.270, 0.315, 0.281, 0.112, 0.034, 0.000, -0.039, -0.096, -0.157, -0.157, -0.112, -0.045,
    0.011, 0.000, -0.067, -0.135, -0.180, -0.135, -0.079, -0.045, -0.124, -0.169, -0.096, -0.022, 0.034, -0.039,
    -0.112, -0.096, 0.056, 0.157, 0.140, 0.090, -0.039, -0.152, -0.180, -0.067, 0.000, 0.017, 0.034, 0.056,
    0.140, 0.157, 0.129, 0.056, -0.022, 0.000, 0.011, 0.006, 0.000, 0.000, -0.045, -0.096, -0.011, 0.129,
    0.202, 0.129, 0.056, 0.034, -0.011, 0.000, 0.022, -0.056, -0.056, 0.000, 0.045, 0.090, 0.090, 0.034,
    0.017, 0.045, 0.056, 0.000, 0.034, 0.034, 0.034, 0.011, -0.056, -0.180, -0.320, -0.320, -0.236, -0.169,
    0.073, 0.157, 0.225, 0.213, 0.157, 0.034, -0.112, -0.067, 0.034, 0.079, 0.090, 0.101, 0.034, -0.034,
    -0.039, -0.067, -0.152, -0.180, 0.073, 0.169, 0.191, 0.169, 0.112, 0.101, 0.326, 0.438, 0.157, 0.034, 0.011,
    0.045, 0.056, -0.067, -0.135, -0.096, -0.022, -0.011, 0.056, 0.270, 0.449, 0.354, 0.129, 0.073, 0.129, 0.382,
    0.427, 0.213, 0.090, 0.017, 0.034, 0.011, 0.073, 0.157,
]

# ---- style ----
GREEN, RED = "#53b987", "#eb4d5c"
LVL_RED = "#ff0000"
GRID_BLUE = "#3f83e6"
TXT = "#555555"
W, H = 1817, 841
AX_R = 1763          # right price-axis line, px
ROWS = [0, 542, 659, 745, 820]


def panel(top, bottom):
    return fig.add_axes([0, 1 - bottom / H, AX_R / W, (bottom - top) / H])


fig = plt.figure(figsize=(W / 100, H / 100), dpi=100)
ax = panel(ROWS[0], ROWS[1])
ax_rsi = panel(ROWS[1], ROWS[2])
ax_st = panel(ROWS[2], ROWS[3])
ax_md = panel(ROWS[3], ROWS[4])

for a in (ax, ax_rsi, ax_st, ax_md):
    for s in a.spines.values():
        s.set_visible(False)
    a.set_xlim(-59, 3259.5)
    a.yaxis.tick_right()
    a.tick_params(axis="y", labelsize=8, colors=TXT, length=4, width=0.8, pad=3)
    a.tick_params(axis="x", bottom=False, labelbottom=False)
    a.set_facecolor("white")

# main price panel
ax.set_ylim(62.52, 75.355)
ax.set_yticks(axis_ticks)
ax.set_yticklabels([f"{v:.2f}" if v in axis_labelled else "" for v in axis_ticks])
for g in day_grid:
    ax.axvline(g, color=GRID_BLUE, lw=0.9, linestyle=(0, (3.6, 5.8)), zorder=1)
for lv in levels:
    ax.axhline(lv, color="#ff8c8c", lw=2.6, zorder=2)
    ax.axhline(lv, color=LVL_RED, lw=1.3, zorder=2.1)

pts = np.column_stack([price_bar, price_close])
segs = np.stack([pts[:-1], pts[1:]], axis=1)
seg_col = np.where(np.diff(price_close) >= 0, GREEN, RED)
ax.add_collection(LineCollection(segs, colors=seg_col, linewidths=1.6, zorder=4))
ax.plot(price_bar, price_close, color="#555555", lw=0.6, alpha=0.75, zorder=5)

ax.plot(*upper_line, color="#4a89e8", lw=1.5, zorder=6, solid_capstyle="butt")
ax.plot(*lower_line, color="#4a89e8", lw=1.5, zorder=6, solid_capstyle="butt")

# price labels on the axis, pushed apart where they collide
tag_h = 16 / 42.22
tags = sorted([(lv, LVL_RED) for lv in levels] + [(last_price, GREEN)], reverse=True)
blend = mtransforms.blended_transform_factory(ax.transAxes, ax.transData)
tag_w = 39 / AX_R
prev = None
for lv, col in tags:
    yc = lv if prev is None or prev - lv >= tag_h else prev - tag_h
    prev = yc
    ax.add_patch(Rectangle((1.0, yc - tag_h / 2), tag_w, tag_h, transform=blend,
                           facecolor=col, edgecolor="none", clip_on=False, zorder=10))
    ax.text(1.0 + tag_w / 2, yc, f"{lv:.2f}", transform=blend, ha="center", va="center",
            color="white", fontsize=8, fontweight="bold", clip_on=False, zorder=11)

# RSI
ax_rsi.set_ylim(2.3, 91.8)
ax_rsi.set_yticks([25, 50, 75])
ax_rsi.set_yticklabels(["25.0000", "50.0000", "75.0000"])
for lv in (70, 30):
    ax_rsi.axhline(lv, color="#c3c3c3", lw=1.0, linestyle=(0, (4, 3)))
ax_rsi.plot(rsi_bar, rsi_val, color="#8e1e9e", lw=0.9)

# Stochastic
stoch_d = pd.Series(stoch_k).rolling(2, min_periods=1).mean()
ax_st.set_ylim(-4.8, 106.2)
ax_st.set_yticks([0, 40, 80])
ax_st.set_yticklabels(["0.0000", "40.0000", "80.0000"])
for lv in (80, 20):
    ax_st.axhline(lv, color="#5a5a5a", lw=1.0, linestyle=(0, (5, 4)))
ax_st.plot(stoch_bar, stoch_k, color="#2196f3", lw=1.0)
ax_st.plot(stoch_bar, stoch_d, color="#ff6d00", lw=1.0)

# MACD
hist = np.array(macd_line) - np.array(macd_signal)
ax_md.set_ylim(-0.623, 0.64)
ax_md.set_yticks([-0.5, 0, 0.5])
ax_md.set_yticklabels(["-0.5000", "0.0000", "0.5000"])
ax_md.fill_between(macd_bar, hist, 0, color="#ff1467", lw=0)
ax_md.plot(macd_bar, macd_line, color="#2196f3", lw=1.0)
ax_md.plot(macd_bar, macd_signal, color="#ff6d00", lw=1.0)

ax_md.tick_params(axis="x", bottom=True, labelbottom=True, labelsize=8, colors=TXT,
                  length=4, width=0.8, pad=2)
ax_md.set_xticks(date_pos)
ax_md.set_xticklabels(date_lbl)
for t in ax_md.get_xticklabels():
    if t.get_text() in ("Jun", "Jul"):
        t.set_fontweight("bold")

# frame lines
for r in ROWS + [839]:
    fig.add_artist(Line2D([0, 1], [1 - r / H, 1 - r / H], color="#4d4d4d", lw=1.1))
fig.add_artist(Line2D([AX_R / W, AX_R / W], [1 - 839 / H, 1], color="#4d4d4d", lw=1.1))

# captions
cap_font = ["Open Sans", "DejaVu Sans"]
fig.text(8 / W, 1 - 17 / H, "LIGHT CRUDE OIL FUTURES, 15, NYMEX", fontsize=8.8, color="#3f3f3f",
         va="center", family=cap_font)
fig.text(8 / W, 1 - 559 / H, "RSI (14, close)", fontsize=8.5, color=TXT, va="center", family=cap_font)
fig.text(8 / W, 1 - 677 / H, "Stoch (14, 3, 3)", fontsize=8.5, color=TXT, va="center", family=cap_font)
fig.text(8 / W, 1 - 762 / H, "MACD (12, 26, close, 9)", fontsize=8.5, color=TXT, va="center",
         family=cap_font)

fig.savefig("out.png", dpi=100, facecolor="white")
plt.close(fig)
